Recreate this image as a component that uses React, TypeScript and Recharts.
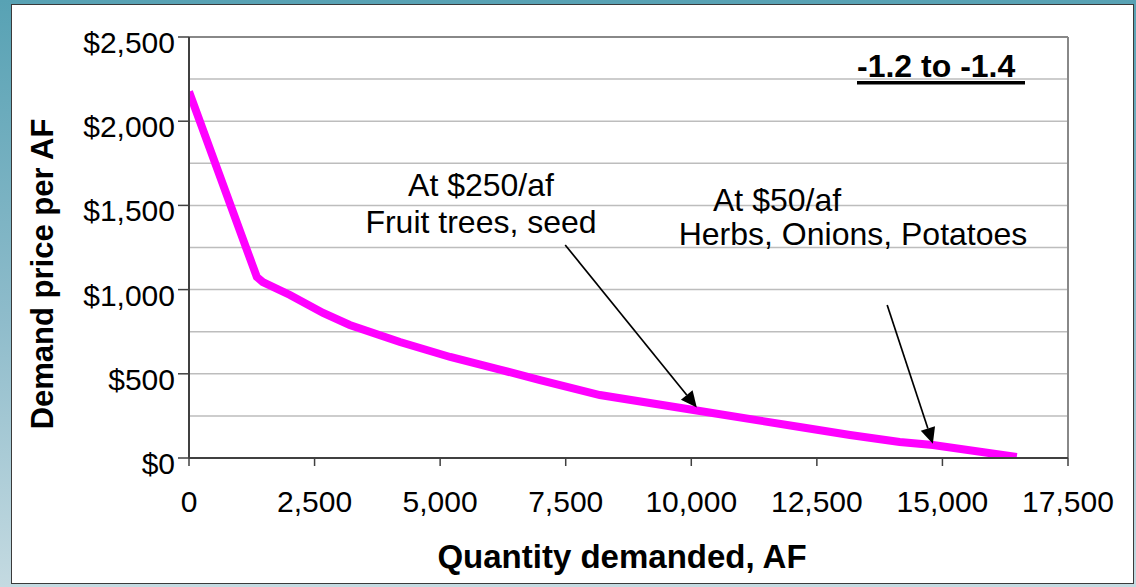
import {
  LineChart,
  Line,
  XAxis,
  YAxis,
  CartesianGrid,
  ReferenceLine,
} from "recharts";

// demand curve
const quantity = [0, 1350, 1470, 2010, 2670, 3200, 4200, 5200, 6190, 6990, 8180, 10170, 12160, 13160, 14150, 14810, 16480];
const price = [2175, 1075, 1045, 968, 861, 790, 689, 600, 525, 462, 374, 279, 184, 137, 95, 77, 6];

const xTicks = [0, 2500, 5000, 7500, 10000, 12500, 15000, 17500];
const yTicks = [0, 250, 500, 750, 1000, 1250, 1500, 1750, 2000, 2250, 2500];

// annotation arrows: [fromQ, fromP, toQ, toP]
const arrow250 = [7490, 1265, 10110, 300];
const arrow50 = [13900, 909, 14810, 85];

const data = quantity.map((q, i) => ({ q, p: price[i] }));

const W = 1136;
const H = 587;
const MARGIN = { top: 37, right: 68, left: 89, bottom: 69 };
const Y_AXIS_W = 100;
const X_AXIS_H = 60;
const PLOT_LEFT = MARGIN.left + Y_AXIS_W;
const PLOT_BOTTOM = H - MARGIN.bottom - X_AXIS_H;
const FONT = "'Liberation Sans', Arial, sans-serif";

function YTick(props: any) {
  const v = props.payload.value;
  const y = props.y;
  if (v % 500 !== 0) return null;
  return (
    <g>
      <line x1={PLOT_LEFT - 11} x2={PLOT_LEFT} y1={y} y2={y} stroke="#404040" strokeWidth={1.5} />
      <text x={PLOT_LEFT - 14} y={y + 16} textAnchor="end" fontSize={30} fontFamily={FONT} fill="#000">
        {"$" + v.toLocaleString("en-US")}
      </text>
    </g>
  );
}

function XTick(props: any) {
  const v = props.payload.value;
  return (
    <text x={props.x} y={PLOT_BOTTOM + 54} textAnchor="middle" fontSize={30} fontFamily={FONT} fill="#000">
      {v.toLocaleString("en-US")}
    </text>
  );
}

function Arrow(props: any) {
  const { x1, y1, x2, y2 } = props;
  const dx = x2 - x1;
  const dy = y2 - y1;
  const len = Math.sqrt(dx * dx + dy * dy);
  const ux = dx / len;
  const uy = dy / len;
  const hl = 16;
  const hw = 7.5;
  const bx = x2 - ux * hl;
  const by = y2 - uy * hl;
  return (
    <g>
      <line x1={x1} y1={y1} x2={bx} y2={by} stroke="#000" strokeWidth={1.7} />
      <polygon
        points={`${x2},${y2} ${bx - uy * hw},${by + ux * hw} ${bx + uy * hw},${by - ux * hw}`}
        fill="#000"
      />
    </g>
  );
}

export default function App() {
  return (
    <div
      style={{
        position: "absolute",
        left: 0,
        top: 0,
        width: W,
        height: H,
        background: "linear-gradient(to bottom, #58a2b4 0%, #8fbccb 55%, #c4dae1 100%)",
      }}
    >
      <div
        style={{
          position: "absolute",
          left: 11,
          top: 4,
          width: 1121,
          height: 578,
          background: "#fff",
          border: "1px solid #3a3a3a",
        }}
      />
      <div style={{ position: "absolute", left: 0, top: 0 }}>
        <LineChart width={W} height={H} data={data} margin={MARGIN}>
          <CartesianGrid vertical={false} stroke="#bdbdbd" strokeWidth={1.5} />
          <XAxis
            dataKey="q"
            type="number"
            domain={[0, 17500]}
            ticks={xTicks}
            height={X_AXIS_H}
            tick={<XTick />}
            tickSize={8}
            axisLine={{ stroke: "#404040", strokeWidth: 2 }}
            tickLine={{ stroke: "#404040", strokeWidth: 1.5 }}
            allowDataOverflow
          />
          <YAxis
            type="number"
            domain={[0, 2500]}
            ticks={yTicks}
            width={Y_AXIS_W}
            tick={<YTick />}
            tickLine={false}
            axisLine={{ stroke: "#404040", strokeWidth: 2 }}
            allowDataOverflow
          />
          <ReferenceLine y={2500} stroke="#888" strokeWidth={2} />
          <ReferenceLine x={17500} stroke="#888" strokeWidth={2} />
          <Line
            dataKey="p"
            type="linear"
            stroke="#ff00ff"
            strokeWidth={8}
            dot={false}
            isAnimationActive={false}
          />
          <ReferenceLine
            segment={[
              { x: arrow250[0], y: arrow250[1] },
              { x: arrow250[2], y: arrow250[3] },
            ]}
            shape={<Arrow />}
          />
          <ReferenceLine
            segment={[
              { x: arrow50[0], y: arrow50[1] },
              { x: arrow50[2], y: arrow50[3] },
            ]}
            shape={<Arrow />}
          />
          <text x={481} y={196} textAnchor="middle" fontSize={32} fontFamily={FONT}>At $250/af</text>
          <text x={481} y={233} textAnchor="middle" fontSize={32} fontFamily={FONT}>Fruit trees, seed</text>
          <text x={713} y={211} fontSize={32} fontFamily={FONT}>At $50/af</text>
          <text x={853} y={245} textAnchor="middle" fontSize={32} fontFamily={FONT}>Herbs, Onions, Potatoes</text>
          <text x={857} y={77} fontSize={32} fontWeight="bold" fontFamily={FONT}>-1.2 to -1.4</text>
          <rect x={857} y={81} width={168} height={3.5} fill="#000" />
          <text
            x={53}
            y={274}
            textAnchor="middle"
            fontSize={31}
            fontWeight="bold"
            fontFamily={FONT}
            transform="rotate(-90, 53, 274)"
          >
            Demand price per AF
          </text>
          <text x={622} y={568} textAnchor="middle" fontSize={33} fontWeight="bold" fontFamily={FONT}>
            Quantity demanded, AF
          </text>
        </LineChart>
      </div>
    </div>
  );
}
